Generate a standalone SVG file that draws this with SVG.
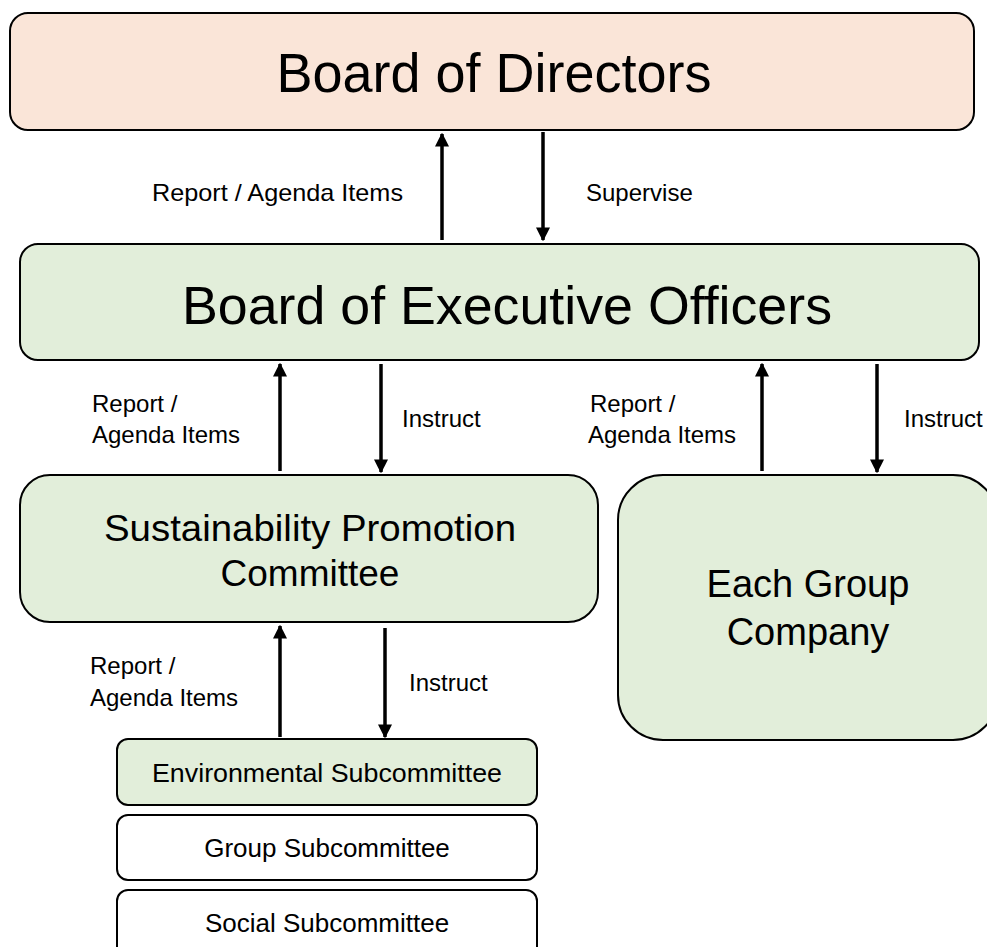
<svg xmlns="http://www.w3.org/2000/svg" width="987" height="947" viewBox="0 0 987 947">
<style>
.box{stroke:#000;stroke-width:2}
.pink{fill:#fae5d8}
.green{fill:#e2eeda}
.white{fill:#fff}
text{font-family:"Liberation Sans",Arial,sans-serif;fill:#000}
.lbl{font-size:24px}
.sub{font-size:26px}
.big{text-anchor:middle}
.conn line{stroke:#000;stroke-width:3.5}
</style>
<defs>
<marker id="ah" viewBox="0 0 10 10" refX="9" refY="5" markerWidth="4" markerHeight="4" orient="auto" markerUnits="strokeWidth">
<path d="M0,0 L10,5 L0,10 z" fill="#000"/>
</marker>
</defs>
<rect width="987" height="947" fill="#fff"/>
<g id="board-directors">
<rect class="box pink" x="10" y="13" width="964" height="117" rx="18"/>
<text class="big" x="494" y="92" font-size="55" textLength="435" lengthAdjust="spacingAndGlyphs">Board of Directors</text>
</g>
<g id="board-executive">
<rect class="box green" x="20" y="244" width="959" height="116" rx="18"/>
<text class="big" x="507" y="324" font-size="53" textLength="650" lengthAdjust="spacingAndGlyphs">Board of Executive Officers</text>
</g>
<g id="sustainability">
<rect class="box green" x="20" y="475" width="578" height="147" rx="30"/>
<text class="big" x="310" y="541" font-size="37" textLength="412" lengthAdjust="spacingAndGlyphs">Sustainability Promotion</text>
<text class="big" x="310" y="586" font-size="37">Committee</text>
</g>
<g id="group-company">
<rect class="box green" x="618" y="475" width="380" height="265" rx="45"/>
<text class="big" x="808" y="597" font-size="38">Each Group</text>
<text class="big" x="808" y="645" font-size="38">Company</text>
</g>
<g id="env-sub">
<rect class="box green" x="117" y="739" width="420" height="66" rx="11"/>
<text class="big sub" x="327" y="782" textLength="350" lengthAdjust="spacingAndGlyphs">Environmental Subcommittee</text>
</g>
<g id="group-sub">
<rect class="box white" x="117" y="815" width="420" height="65" rx="11"/>
<text class="big sub" x="327" y="857">Group Subcommittee</text>
</g>
<g id="social-sub">
<rect class="box white" x="117" y="890" width="420" height="80" rx="11"/>
<text class="big sub" x="327" y="932">Social Subcommittee</text>
</g>
<g class="conn" id="connectors">
<line x1="442" y1="240" x2="442" y2="134" marker-end="url(#ah)"/>
<line x1="543" y1="132" x2="543" y2="240" marker-end="url(#ah)"/>
<line x1="280" y1="471" x2="280" y2="364" marker-end="url(#ah)"/>
<line x1="381" y1="364" x2="381" y2="472" marker-end="url(#ah)"/>
<line x1="762" y1="471" x2="762" y2="364" marker-end="url(#ah)"/>
<line x1="877" y1="364" x2="877" y2="472" marker-end="url(#ah)"/>
<line x1="280" y1="737" x2="280" y2="626" marker-end="url(#ah)"/>
<line x1="385" y1="628" x2="385" y2="737" marker-end="url(#ah)"/>
</g>
<g id="labels">
<text class="lbl" x="152" y="201" textLength="251" lengthAdjust="spacingAndGlyphs">Report / Agenda Items</text>
<text class="lbl" x="586" y="201">Supervise</text>
<text class="lbl" x="92" y="412">Report /</text>
<text class="lbl" x="92" y="443">Agenda Items</text>
<text class="lbl" x="402" y="427">Instruct</text>
<text class="lbl" x="590" y="412">Report /</text>
<text class="lbl" x="588" y="443">Agenda Items</text>
<text class="lbl" x="904" y="427">Instruct</text>
<text class="lbl" x="90" y="674">Report /</text>
<text class="lbl" x="90" y="706">Agenda Items</text>
<text class="lbl" x="409" y="691">Instruct</text>
</g>
</svg>
